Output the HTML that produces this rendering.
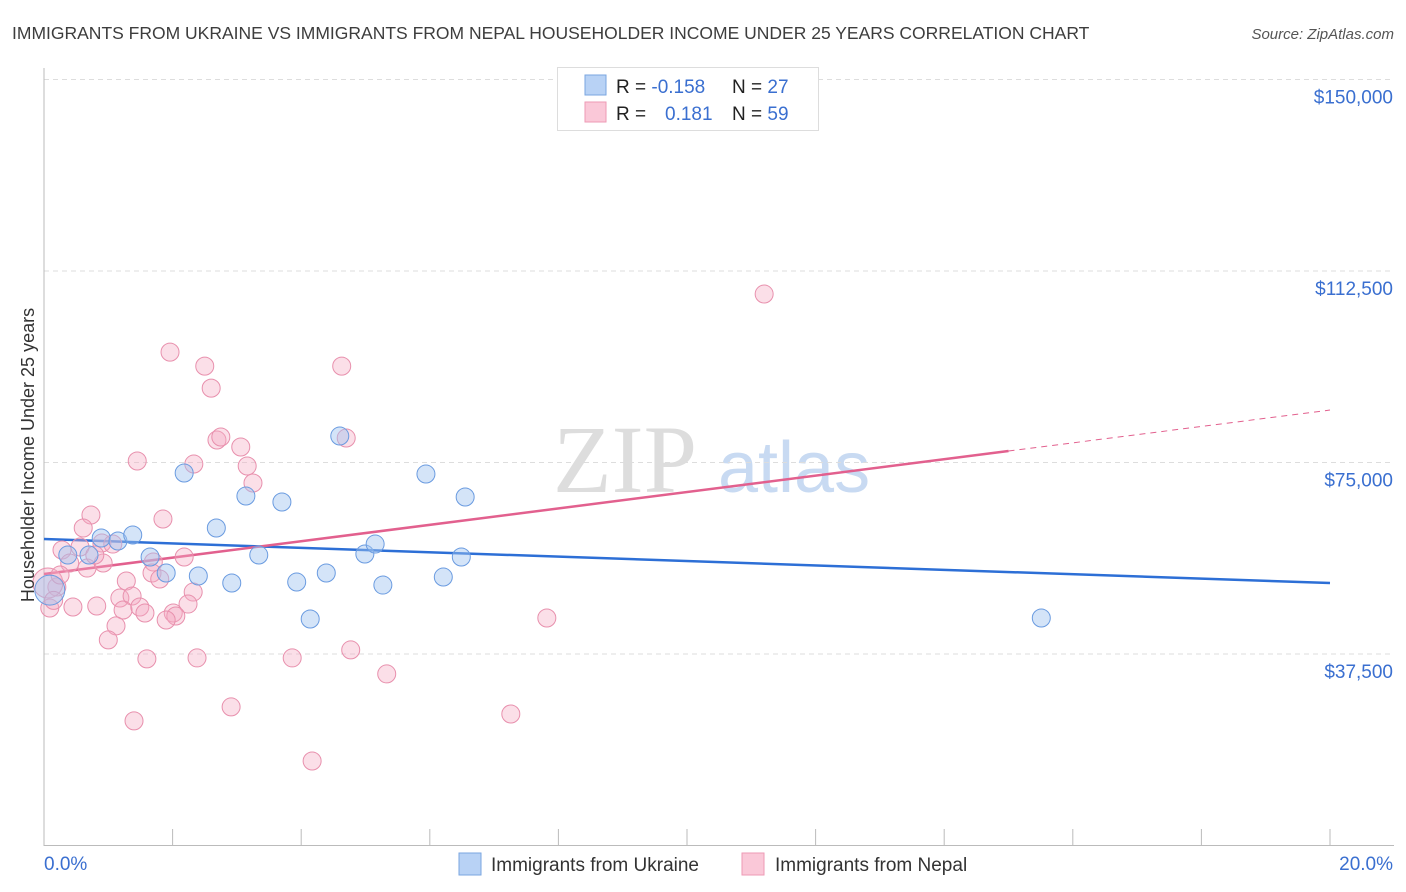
<!DOCTYPE html>
<html><head><meta charset="utf-8"><style>
body{margin:0;background:#fff;font-family:"Liberation Sans",sans-serif}
svg{display:block}
</style></head><body>
<svg id="c" width="1406" height="892" xmlns="http://www.w3.org/2000/svg">
<text x="12" y="39" font-size="17.5" fill="#3d3d3d">IMMIGRANTS FROM UKRAINE VS IMMIGRANTS FROM NEPAL HOUSEHOLDER INCOME UNDER 25 YEARS CORRELATION CHART</text>
<text x="1394" y="39" font-size="15" font-style="italic" fill="#555" text-anchor="end">Source: ZipAtlas.com</text>
<g><text x="553" y="492" font-family="Liberation Serif" font-size="96" fill="#ddd">ZIP</text><text x="718" y="492" font-size="72" fill="#c8daf2">atlas</text></g>
<g id="grid"></g>
<g id="axes"></g>
<g id="lines"></g>
<g id="pts"></g>
<text transform="translate(34,455) rotate(-90)" font-size="18" fill="#333" text-anchor="middle">Householder Income Under 25 years</text>
<g>
<rect x="557.5" y="67.5" width="261" height="63" fill="#fff" stroke="#ddd"/>
<rect x="585" y="75" width="21" height="20" fill="#b8d2f5" stroke="#7aa6e0"/>
<rect x="585" y="102" width="21" height="20" fill="#fac8d8" stroke="#ee9ab5"/>
<text x="616" y="93" font-size="19" fill="#222">R = <tspan fill="#3a6fd0">-0.158</tspan><tspan x="732">N = </tspan><tspan fill="#3a6fd0">27</tspan></text>
<text x="616" y="120" font-size="19" fill="#222">R = <tspan x="665" fill="#3a6fd0">0.181</tspan><tspan x="732">N = </tspan><tspan fill="#3a6fd0">59</tspan></text>
</g>
<g>
<rect x="459" y="853" width="22" height="22" fill="#b8d2f5" stroke="#7aa6e0"/>
<text x="491" y="871" font-size="19" fill="#333">Immigrants from Ukraine</text>
<rect x="742" y="853" width="22" height="22" fill="#fac8d8" stroke="#ee9ab5"/>
<text x="775" y="871" font-size="19" fill="#333">Immigrants from Nepal</text>
</g>
</svg>
<script>
const yTicks=[37500,75000,112500,150000];
const yTickLabels=["$37,500","$75,000","$112,500","$150,000"];
const xTickLabels=["0.0%","20.0%"];
const ukraineX=[0.37,0.70,0.89,1.15,1.38,1.65,1.90,2.18,2.40,2.68,2.92,3.14,3.34,3.70,3.93,4.14,4.39,4.60,4.99,5.15,5.27,5.94,6.21,6.49,6.55,15.51,0.09];
const ukraineY=[56880,56880,60210,59620,60800,56490,53360,72940,52770,62170,51400,68430,56880,67260,51590,44350,53360,80180,57080,59030,51000,72740,52570,56490,68240,44550,50020];
const nepalX=[1.45,2.33,2.69,2.75,3.06,3.16,3.25,0.73,0.61,1.85,0.28,0.56,0.90,1.07,0.40,0.67,0.92,0.79,2.18,1.70,1.68,1.80,1.28,1.18,1.37,1.23,1.49,1.57,2.32,2.24,2.01,2.05,1.90,0.45,0.82,0.09,0.20,1.12,1.00,1.60,2.38,3.86,2.91,1.40,1.96,2.50,2.60,4.63,4.70,11.20,4.77,5.33,7.82,7.26,4.17,0.06,0.25,0.15];
const nepalY=[75290,74700,79400,79990,78030,74310,70980,64710,62170,63930,57860,58450,59230,59030,55310,54330,55310,56880,56490,55510,53360,52180,51790,48460,48850,46110,46700,45530,49630,47280,45530,44940,44160,46700,46890,46500,50610,43000,40260,36540,36730,36730,27140,24400,96610,93870,89560,93870,79790,107990,38300,33600,44550,25750,16550,51400,52960,48000];
const ukraineTrend=[60010,51400];
const nepalTrend=[53160,85270];
const NS="http://www.w3.org/2000/svg";
const X=v=>44+v/20*1286;
const Y=v=>845.5-v/37500*191.5;
function mk(p,t,a){const e=document.createElementNS(NS,t);for(const k in a)e.setAttribute(k,a[k]);p.appendChild(e);return e;}
const grid=document.getElementById('grid'),axes=document.getElementById('axes'),lines=document.getElementById('lines'),pts=document.getElementById('pts');
yTicks.forEach((t,i)=>{
 const l=mk(grid,'line',{x1:44,x2:1394,y1:Y(t),y2:Y(t),stroke:'#ddd','stroke-dasharray':'5,4'});
 
 
 const tx=mk(grid,'text',{x:1393,y:Y(t)+24,'font-size':19,fill:'#3a6fd0','text-anchor':'end'});
 tx.textContent=yTickLabels[i];
 
 
});
const ya=mk(axes,'line',{x1:44,x2:44,y1:68,y2:846,stroke:'#bbb'});


const xa=mk(axes,'line',{x1:44,x2:1394,y1:845.5,y2:845.5,stroke:'#bbb'});


for(let k=1;k<=10;k++){
 const t=mk(axes,'line',{x1:X(k*2),x2:X(k*2),y1:829,y2:845,stroke:'#bbb'});
 
 
}
const xl0=mk(axes,'text',{x:44,y:870,'font-size':19,fill:'#3a6fd0'});xl0.textContent=xTickLabels[0];


const xl1=mk(axes,'text',{x:1393,y:870,'font-size':19,fill:'#3a6fd0','text-anchor':'end'});xl1.textContent=xTickLabels[1];


function pt(x,y,big,blue){
 const c=mk(pts,'circle',{cx:X(x),cy:Y(y),r:big?15:9,fill:blue?'rgba(160,196,240,0.45)':'rgba(245,170,195,0.38)',stroke:blue?'#6a9be0':'#e890ad','stroke-width':1});
 
 
}
nepalX.forEach((x,i)=>pt(x,nepalY[i],i===55,false));
ukraineX.forEach((x,i)=>pt(x,ukraineY[i],i===26,true));
const bl=mk(lines,'line',{x1:X(0),y1:Y(ukraineTrend[0]),x2:X(20),y2:Y(ukraineTrend[1]),stroke:'#2d6fd6','stroke-width':2.5});


const xs=15;const ym=nepalTrend[0]+(nepalTrend[1]-nepalTrend[0])*xs/20;
const pl=mk(lines,'line',{x1:X(0),y1:Y(nepalTrend[0]),x2:X(xs),y2:Y(ym),stroke:'#e2608e','stroke-width':2.5});


const pd=mk(lines,'line',{x1:X(xs),y1:Y(ym),x2:X(20),y2:Y(nepalTrend[1]),stroke:'#e2608e','stroke-width':1,'stroke-dasharray':'6,5'});


</script>
</body></html>
